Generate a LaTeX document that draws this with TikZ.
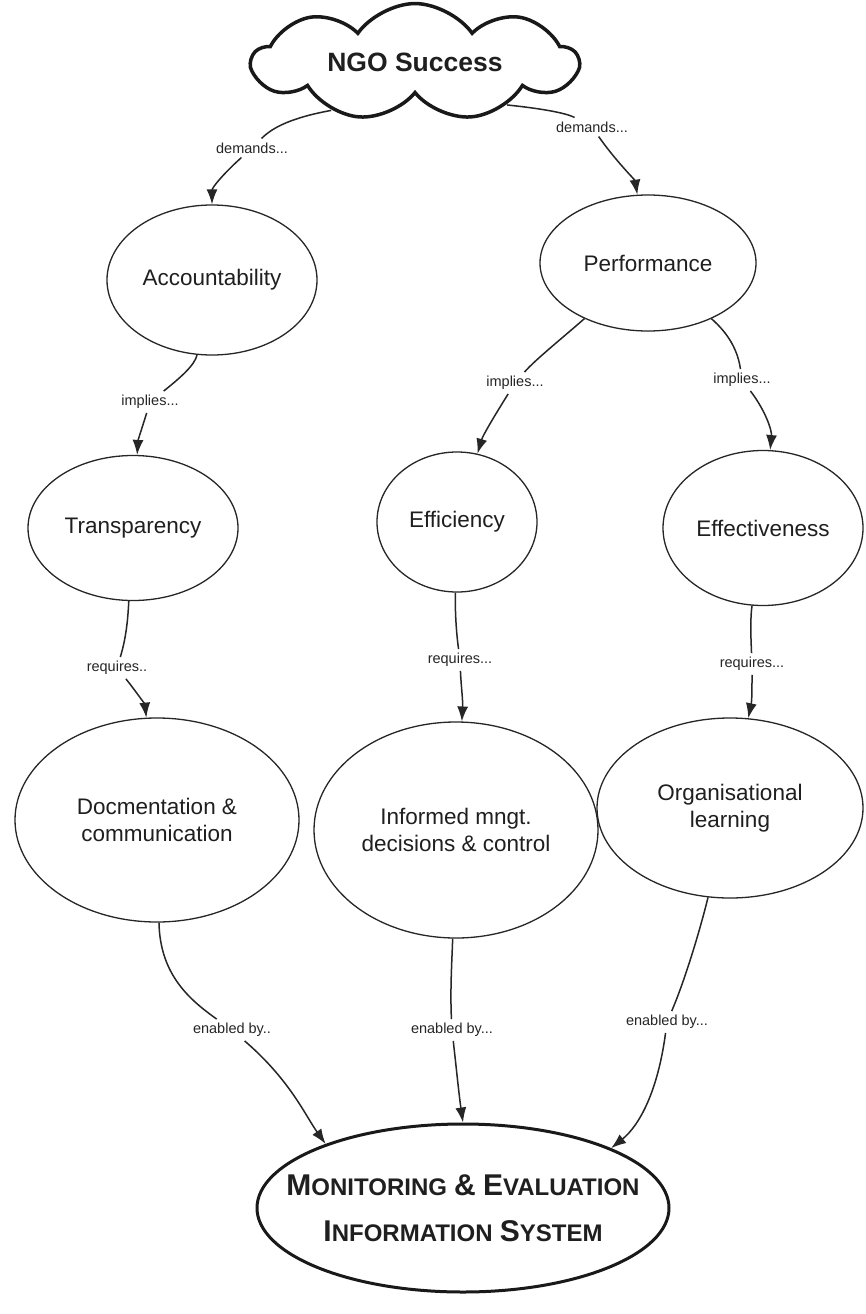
\documentclass[tikz,border=0pt]{standalone}
\usepackage{fontspec}
\setmainfont{Liberation Sans}
\usetikzlibrary{shapes.geometric,shapes.symbols,arrows.meta}
\newcommand\mecap[1]{{\fontsize{30}{46}\selectfont #1}}
\newcommand\mesc[1]{{\fontsize{24}{46}\selectfont #1}}
\begin{document}
\begin{tikzpicture}[x=1pt,y=-1pt,
  bubble/.style={ellipse, draw=black!85, line width=1.3pt, inner sep=0pt, align=center,
    text=black!88, font=\fontsize{22.5}{27}\selectfont},
  lab/.style={font=\fontsize{14.5}{16}\selectfont, inner sep=4pt, text=black!85},
  conn/.style={line width=1.5pt, draw=black!85},
  arr/.style={conn, -{Latex[length=15pt,width=11pt]}}]
\useasboundingbox (0,0) rectangle (866,1314);
\fill[white] (0,0) rectangle (866,1314);

% top cloud
\node[cloud, draw=black!90, line width=3.5pt, cloud puffs=9, cloud puff arc=110, aspect=3.2,
  minimum width=325pt, minimum height=104pt, inner sep=0pt, text=black!88,
  font=\bfseries\fontsize{26.5}{30}\selectfont] (cloud) at (415,62) {NGO Success};

% ellipses
\node[bubble, minimum width=210pt, minimum height=150pt] (acc) at (212,280) {Accountability};
\node[bubble, minimum width=216pt, minimum height=136pt] (perf) at (648,263) {Performance};
\node[bubble, minimum width=210pt, minimum height=145pt] (trans) at (133,528) {Transparency};
\node[bubble, minimum width=160pt, minimum height=140pt] (eff) at (457,522) {Efficiency};
\node[bubble, minimum width=200pt, minimum height=155pt] (effv) at (763,528) {Effectiveness};
\node[bubble, minimum width=284pt, minimum height=204pt] (doc) at (157,820) {Docmentation \&\\communication};
\node[bubble, minimum width=284pt, minimum height=216pt] (inf) at (456,830) {Informed mngt.\\decisions \& control};
\node[bubble, minimum width=266pt, minimum height=180pt] (org) at (730,808) {Organisational\\learning};
\node[ellipse, draw=black!90, line width=3pt, inner sep=0pt, minimum width=412pt, minimum height=168pt,
  align=center, text=black!88, font=\bfseries\fontsize{26}{46}\selectfont] (me) at (463,1208)
  {\makebox[240pt][c]{\mecap{M}\mesc{ONITORING} \mecap{\&} \mecap{E}\mesc{VALUATION}}\\
   \makebox[240pt][c]{\mecap{I}\mesc{NFORMATION} \mecap{S}\mesc{YSTEM}}};

% labels
\node[lab] (d1) at (252,148) {demands...};
\node[lab] (d2) at (592,127) {demands...};
\node[lab] (i1) at (150,402) {implies...};
\node[lab] (i2) at (515,383) {implies...};
\node[lab] (i3) at (742,380) {implies...};
\node[lab] (r1) at (117,668) {requires..};
\node[lab] (r2) at (460,660) {requires...};
\node[lab] (r3) at (752,664) {requires...};
\node[lab] (e1) at (232,1030) {enabled by..};
\node[lab] (e2) at (452,1030) {enabled by...};
\node[lab] (e3) at (667,1022) {enabled by...};

% connectors
\draw[conn] (cloud.-150) .. controls (290,118) and (272,128) .. (d1);
\draw[arr] (d1) .. controls (222,175) and (212,188) .. (acc);
\draw[conn] (cloud.-25) .. controls (555,110) and (570,115) .. (d2);
\draw[arr] (d2) .. controls (615,160) and (635,180) .. (perf);

\draw[conn] (acc) .. controls (195,365) and (180,378) .. (i1);
\draw[arr] (i1) .. controls (143,425) and (138,440) .. (trans);
\draw[conn] (perf) .. controls (560,340) and (535,360) .. (i2);
\draw[arr] (i2) .. controls (495,415) and (483,435) .. (eff);
\draw[conn] (perf) .. controls (730,335) and (738,352) .. (i3);
\draw[arr] (i3) .. controls (765,410) and (772,430) .. (effv);

\draw[conn] (trans) .. controls (128,615) and (127,635) .. (r1);
\draw[arr] (r1) .. controls (135,690) and (145,705) .. (doc);
\draw[conn] (eff) .. controls (455,610) and (456,630) .. (r2);
\draw[arr] (r2) .. controls (461,685) and (463,700) .. (inf);
\draw[conn] (effv) .. controls (750,620) and (751,640) .. (r3);
\draw[arr] (r3) .. controls (752,688) and (752,700) .. (org);

\draw[conn] (doc) .. controls (160,975) and (190,1000) .. (e1);
\draw[arr] (e1) .. controls (290,1080) and (305,1115) .. (me.155);
\draw[conn] (inf) .. controls (452,960) and (450,990) .. (e2);
\draw[arr] (e2) .. controls (456,1065) and (459,1095) .. (me.north);
\draw[conn] (org) .. controls (700,930) and (685,980) .. (e3);
\draw[arr] (e3) .. controls (658,1090) and (640,1125) .. (me.22);
\end{tikzpicture}
\end{document}
